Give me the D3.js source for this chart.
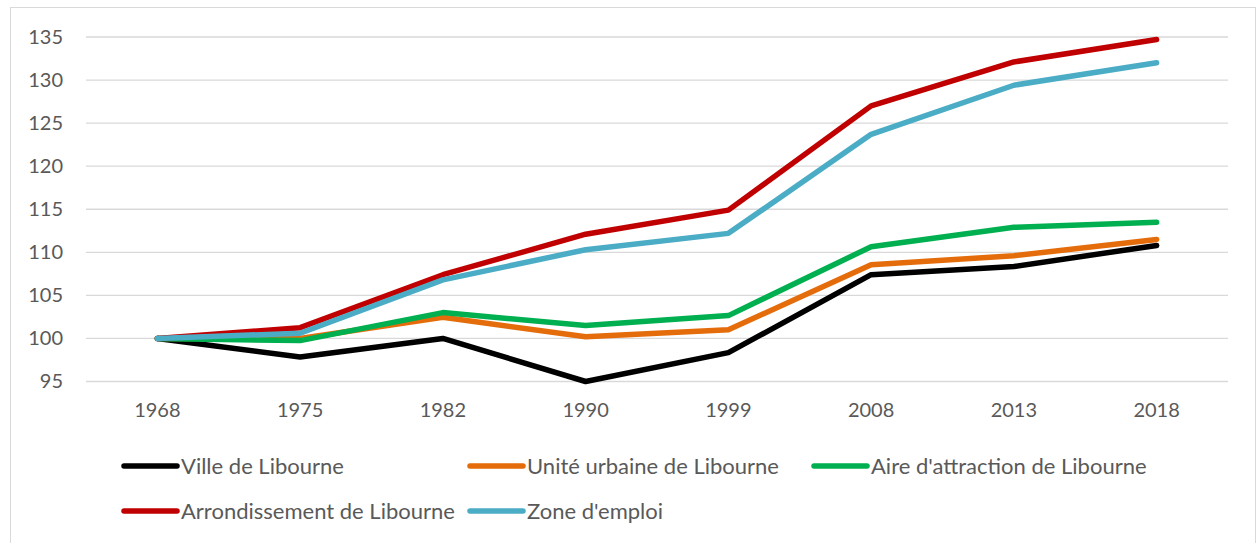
<!DOCTYPE html>
<html>
<head>
<meta charset="utf-8">
<script src="https://cdn.jsdelivr.net/npm/d3@7"></script>
<style>
  body { margin: 0; background: #fff; }
  text { font-family: Lato, "Open Sans", sans-serif; fill: #595959; }
</style>
</head>
<body>
<div id="chart"></div>
<script>
// data
const years = ["1968", "1975", "1982", "1990", "1999", "2008", "2013", "2018"];
const yTicks = [95, 100, 105, 110, 115, 120, 125, 130, 135];
const ville = [100, 97.85, 100.0, 95.0, 98.35, 107.4, 108.35, 110.8];
const uniteUrbaine = [100, 100.0, 102.45, 100.2, 101.0, 108.55, 109.6, 111.5];
const aireAttraction = [100, 99.75, 103.0, 101.5, 102.65, 110.65, 112.9, 113.5];
const arrondissement = [100, 101.25, 107.4, 112.1, 114.9, 127.0, 132.1, 134.7];
const zoneEmploi = [100, 100.6, 106.8, 110.3, 112.2, 123.7, 129.4, 132.0];

const series = [
  {name: "Ville de Libourne", values: ville, color: "#000000"},
  {name: "Unité urbaine de Libourne", values: uniteUrbaine, color: "#E46C0A"},
  {name: "Aire d'attraction de Libourne", values: aireAttraction, color: "#00B050"},
  {name: "Arrondissement de Libourne", values: arrondissement, color: "#C00000"},
  {name: "Zone d'emploi", values: zoneEmploi, color: "#4BACC6"}
];

const width = 1257, height = 543;

const svg = d3.select("#chart")
  .append("svg")
  .attr("width", width)
  .attr("height", height);

// chart border
svg.append("rect")
  .attr("x", 10.5).attr("y", 7.5)
  .attr("width", 1245).attr("height", 560)
  .attr("fill", "none")
  .attr("stroke", "#d9d9d9");

const x = d3.scaleBand().domain(years).range([86, 1228]);
const y = d3.scaleLinear().domain([95, 135]).range([381.5, 37]);

// gridlines
svg.append("g")
  .selectAll("line")
  .data(yTicks)
  .enter()
  .append("line")
  .attr("x1", 86).attr("x2", 1228)
  .attr("y1", d => y(d)).attr("y2", d => y(d))
  .attr("stroke", "#d9d9d9")
  .attr("stroke-width", 1.3);

// y axis labels
const yAxis = svg.append("g")
  .attr("transform", "translate(63,0)")
  .call(d3.axisLeft(y).tickValues(yTicks).tickSize(0).tickPadding(0));
yAxis.select(".domain").remove();
yAxis.selectAll("text")
  .attr("font-size", 20)
  .attr("font-family", null)
  .attr("fill", null);

// x axis labels
const xAxis = svg.append("g")
  .attr("transform", "translate(0,400)")
  .call(d3.axisBottom(x).tickSize(0).tickPadding(3));
xAxis.select(".domain").remove();
xAxis.selectAll("text")
  .attr("font-size", 20)
  .attr("font-family", null)
  .attr("fill", null);

// lines
const line = d3.line()
  .x((d, i) => x(years[i]) + x.bandwidth() / 2)
  .y(d => y(d));

svg.append("g")
  .selectAll("path")
  .data(series)
  .enter()
  .append("path")
  .attr("d", d => line(d.values))
  .attr("fill", "none")
  .attr("stroke", d => d.color)
  .attr("stroke-width", 5.5)
  .attr("stroke-linejoin", "round")
  .attr("stroke-linecap", "round");

// legend
const legendX = [122, 468, 812];
const legendY = [466, 511];
const legend = svg.append("g")
  .selectAll("g")
  .data(series)
  .enter()
  .append("g")
  .attr("transform", (d, i) => `translate(${legendX[i % 3]},${legendY[Math.floor(i / 3)]})`);

legend.append("line")
  .attr("x1", 2).attr("x2", 55)
  .attr("stroke", d => d.color)
  .attr("stroke-width", 5.5)
  .attr("stroke-linecap", "round");

legend.append("text")
  .attr("x", 59)
  .attr("dy", "0.35em")
  .attr("font-size", 22)
  .text(d => d.name);
</script>
</body>
</html>
